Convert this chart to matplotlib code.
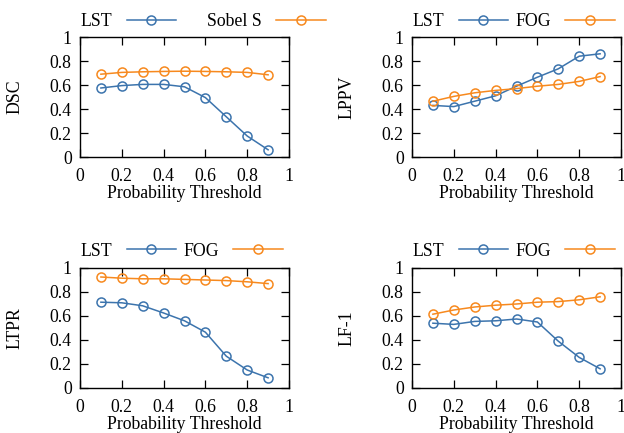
import numpy as np
import matplotlib
matplotlib.use('Agg')
import matplotlib.pyplot as plt
from matplotlib.ticker import FuncFormatter

plt.rcParams['font.family'] = ['Liberation Serif', 'DejaVu Serif']
plt.rcParams['font.size'] = 12.8

# data
thresholds = [0.1, 0.2, 0.3, 0.4, 0.5, 0.6, 0.7, 0.8, 0.9]

dsc_lst = [0.575, 0.595, 0.605, 0.605, 0.585, 0.495, 0.335, 0.175, 0.06]
dsc_sobel = [0.69, 0.705, 0.71, 0.713, 0.715, 0.713, 0.71, 0.705, 0.685]

lppv_lst = [0.43, 0.42, 0.465, 0.51, 0.59, 0.665, 0.735, 0.84, 0.86]
lppv_fog = [0.465, 0.505, 0.535, 0.555, 0.57, 0.59, 0.605, 0.63, 0.67]

ltpr_lst = [0.715, 0.71, 0.685, 0.625, 0.56, 0.465, 0.265, 0.15, 0.085]
ltpr_fog = [0.925, 0.915, 0.91, 0.91, 0.905, 0.9, 0.895, 0.885, 0.87]

lf1_lst = [0.54, 0.53, 0.555, 0.56, 0.575, 0.55, 0.39, 0.255, 0.16]
lf1_fog = [0.615, 0.65, 0.675, 0.69, 0.7, 0.715, 0.72, 0.735, 0.76]

panels = [
    ('DSC', dsc_lst, 'Sobel S', dsc_sobel),
    ('LPPV', lppv_lst, 'FOG', lppv_fog),
    ('LTPR', ltpr_lst, 'FOG', ltpr_fog),
    ('LF-1', lf1_lst, 'FOG', lf1_fog),
]

blue = '#3c74ad'
orange = '#f7891e'

W, H = 624, 433
fig = plt.figure(figsize=(W / 100, H / 100), dpi=100)

# axes boxes in pixels: left, top, right, bottom
boxes = [(80, 37, 289, 157), (412, 37, 621, 157),
         (80, 268, 289, 388), (412, 268, 621, 388)]
colspace = [1.75, 0.4, 0.4, 0.4]
legend_y = [1.04, 1.04, 1.055, 1.055]

fmt = FuncFormatter(lambda v, p: ('%g' % round(v, 2)))

for i, (name, a, bname, b) in enumerate(panels):
    l, t, r, btm = boxes[i]
    ax = fig.add_axes([l / W, 1 - btm / H, (r - l) / W, (btm - t) / H])
    ax.plot(thresholds, a, '-o', color=blue, lw=1.1, ms=6.5, mfc='none', mew=1.1, label='LST')
    ax.plot(thresholds, b, '-o', color=orange, lw=1.1, ms=6.5, mfc='none', mew=1.1, label=bname)
    ax.set_xlim(0, 1)
    ax.set_ylim(0, 1)
    ax.set_xticks(np.arange(0, 1.01, 0.2))
    ax.set_yticks(np.arange(0, 1.01, 0.2))
    ax.xaxis.set_major_formatter(fmt)
    ax.yaxis.set_major_formatter(fmt)
    ax.tick_params(direction='in', length=5.8, width=0.9, top=True, right=True)
    ax.tick_params(axis='x', pad=8)
    ax.tick_params(axis='y', pad=6)
    for s in ax.spines.values():
        s.set_linewidth(1.0)
    ax.set_xlabel('Probability Threshold', labelpad=0)
    ax.set_ylabel(name)
    ax.yaxis.set_label_coords(-57 / (r - l), 0.5)
    ax.legend(loc='lower left', bbox_to_anchor=(-0.005, legend_y[i]), ncol=2, frameon=False,
              markerfirst=False, handlelength=2.8, handletextpad=0.8,
              columnspacing=colspace[i], borderaxespad=0.0, borderpad=0.1)

fig.savefig('out.png', dpi=100)
